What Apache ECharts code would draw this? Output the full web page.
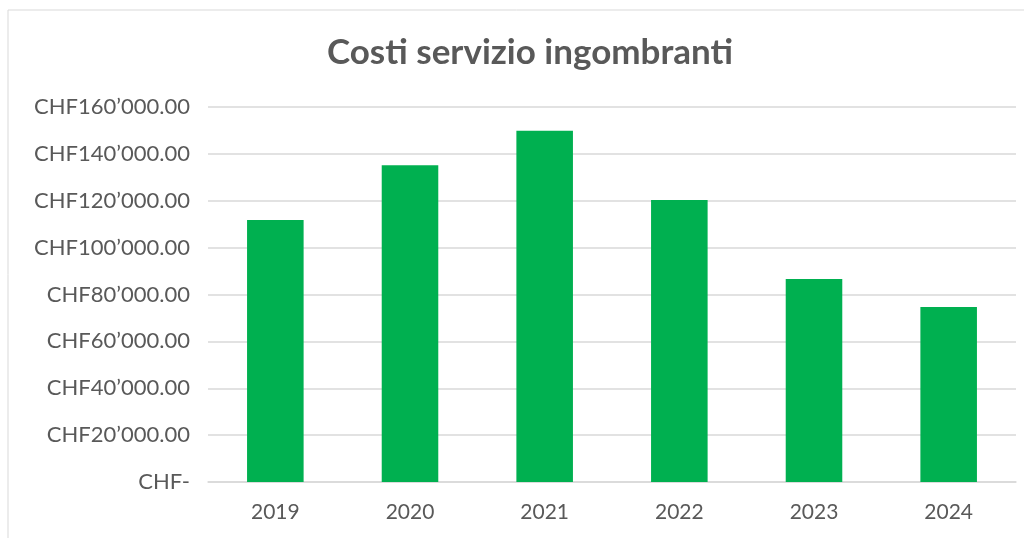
<!DOCTYPE html>
<html><head><meta charset="utf-8">
<script src="https://cdn.jsdelivr.net/npm/echarts@6/dist/echarts.min.js"></script>
<style>html,body{margin:0;padding:0;background:#fff}#c{width:1024px;height:538px}</style>
</head><body><div id="c"></div>
<script>
const categories = ['2019','2020','2021','2022','2023','2024'];
const costs = [111800, 135100, 149900, 120300, 86600, 74700];
const titleText = 'Costi servizio ingombranti';

function fmt(v){
  if (v === 0) return 'CHF-';
  const s = Math.round(v).toString().replace(/\B(?=(\d{3})+(?!\d))/g, '\u2019');
  return 'CHF' + s + '.00';
}

const chart = echarts.init(document.getElementById('c'));
chart.setOption({
  animation: false,
  backgroundColor: '#fff',
  graphic: [{
    type: 'rect', shape: {x: 8, y: 10, width: 1030, height: 540},
    style: {fill: 'none', stroke: '#d9d9d9', lineWidth: 1}, silent: true
  }],
  title: {
    text: titleText, left: 525, textAlign: 'center', top: 30,
    textStyle: {fontFamily: 'Lato', fontWeight: 'bold', fontSize: 35, color: '#595959'}
  },
  grid: {left: 208, right: 8, top: 107, bottom: 56},
  xAxis: {
    type: 'category', data: categories,
    axisLine: {lineStyle: {color: '#d9d9d9', width: 1.5}},
    axisTick: {show: false},
    axisLabel: {color: '#595959', fontSize: 21, fontFamily: 'Lato', margin: 20}
  },
  yAxis: {
    type: 'value', min: 0, max: 160000, interval: 20000,
    axisLine: {show: false}, axisTick: {show: false},
    splitLine: {lineStyle: {color: '#d9d9d9', width: 1.5}},
    axisLabel: {color: '#595959', fontSize: 22, fontFamily: 'Lato', margin: 18, formatter: fmt}
  },
  series: [{
    type: 'bar', data: costs, barCategoryGap: '58%',
    itemStyle: {color: '#00b050'}
  }]
});
</script></body></html>
